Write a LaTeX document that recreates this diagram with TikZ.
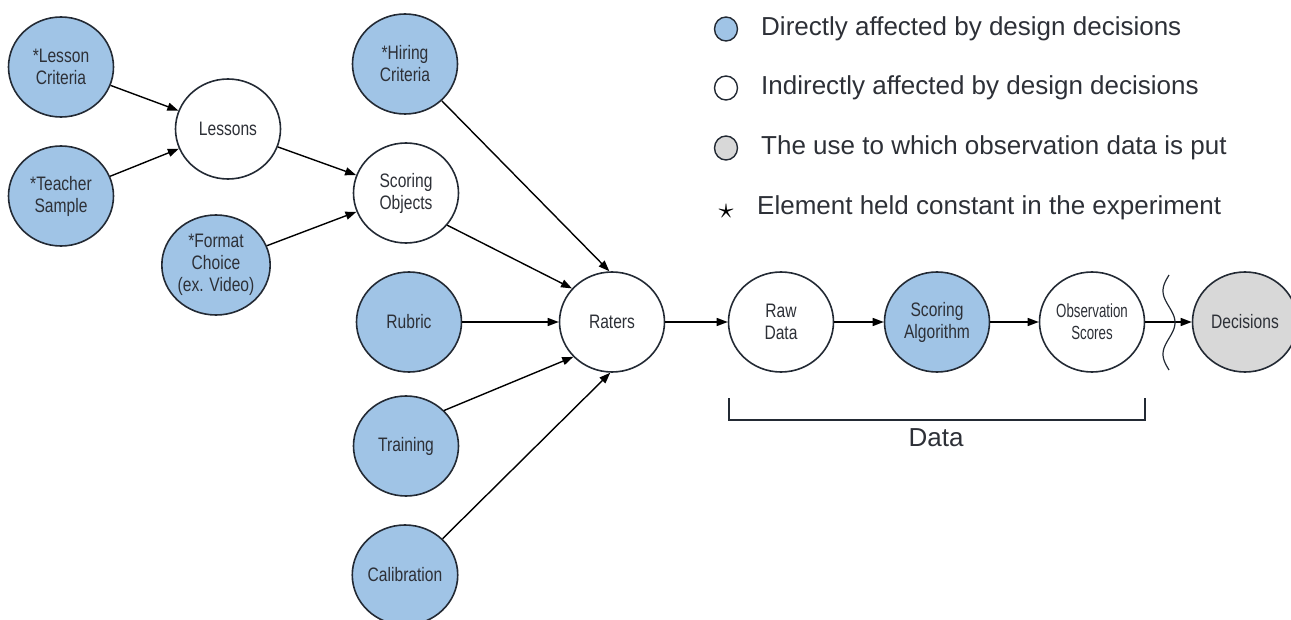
\documentclass[tikz,border=0pt]{standalone}
\usepackage{fontspec}
\setmainfont{Liberation Sans}
\newfontfamily\narrowfont[FakeStretch=0.8]{Liberation Sans}
\newfontfamily\narrowerfont[FakeStretch=0.7]{Liberation Sans}
\usetikzlibrary{shapes.geometric,arrows.meta}
\definecolor{bluefill}{RGB}{160,196,230}
\definecolor{greyfill}{RGB}{216,216,216}
\definecolor{edgecol}{RGB}{35,42,52}
\definecolor{txtcol}{RGB}{45,48,55}
\tikzset{
  x=1pt, y=-1pt,
  base/.style={ellipse, draw=edgecol, line width=1.6pt, minimum width=105pt, minimum height=100pt, inner sep=0pt, align=center, text=txtcol, font=\narrowfont\fontsize{19.5}{22}\selectfont},
  direct/.style={base, fill=bluefill},
  indirect/.style={base, fill=white},
  usenode/.style={base, fill=greyfill},
  conn/.style={line width=1.4pt, black, -{Triangle[length=11pt,width=8pt]}},
  legcirc/.style={ellipse, draw=edgecol, line width=1.4pt, minimum width=23pt, minimum height=24pt, inner sep=0pt},
  legtext/.style={anchor=west, text=txtcol, font=\fontsize{26}{28}\selectfont, inner sep=0pt},
}
\begin{document}
\begin{tikzpicture}
\useasboundingbox (0,0) rectangle (1291,620);
% nodes
\node[direct] (lc) at (61,67) {*Lesson\\Criteria};
\node[direct] (ts) at (61,196) {*Teacher\\Sample};
\node[indirect] (les) at (228,129) {Lessons};
\node[direct] (fc) at (216,265) {*Format\\Choice\\(ex. Video)};
\node[indirect] (so) at (406,193) {Scoring\\Objects};
\node[direct] (hc) at (405,64) {*Hiring\\Criteria};
\node[direct] (rub) at (409,322) {Rubric};
\node[direct] (tra) at (406,446) {Training};
\node[direct] (cal) at (405,575) {Calibration};
\node[indirect] (rat) at (612,322) {Raters};
\node[indirect] (raw) at (781,322) {Raw\\Data};
\node[direct] (alg) at (937,322) {Scoring\\Algorithm};
\node[indirect, font=\narrowerfont\fontsize{19}{22}\selectfont] (obs) at (1092,322) {Observation\\Scores};
\node[usenode] (dec) at (1245,322) {Decisions};
% connectors
\draw[conn] (lc) -- (les);
\draw[conn] (ts) -- (les);
\draw[conn] (les) -- (so);
\draw[conn] (fc) -- (so);
\draw[conn] (hc.-45) -- (rat.93);
\draw[conn] (so.-38) -- (rat.140);
\draw[conn] (rub) -- (rat);
\draw[conn] (tra.43) -- (rat.222);
\draw[conn] (cal.44) -- (rat.-92);
\draw[conn] (rat) -- (raw);
\draw[conn] (raw) -- (alg);
\draw[conn] (alg) -- (obs);
\draw[conn] (obs) -- (dec);
% wave break
\draw[line width=1.2pt, edgecol, domain=275:370, samples=80, smooth, variable=\t]
  plot ({1169-6*sin((\t-275)/95*540)}, \t);
% bracket
\coordinate (bl) at (729,398);
\coordinate (br) at (1145,398);
\draw[line width=1.4pt, edgecol] (bl) -- ++(0,22) -| (br);
\node[text=txtcol, font=\fontsize{26}{28}\selectfont] (datalbl) at (936,438) {Data};
% legend
\node[legcirc, fill=bluefill] (l1) at (726,29) {};
\node[legcirc, fill=white] (l2) at (726,88) {};
\node[legcirc, fill=greyfill] (l3) at (726,148) {};
\node[text=black, inner sep=0pt] (l4) at (726,212) {\scalebox{3}{$\star$}};
\node[legtext] (t1) at (761,29) {Directly affected by design decisions};
\node[legtext] (t2) at (761,88) {Indirectly affected by design decisions};
\node[legtext] (t3) at (761,148) {The use to which observation data is put};
\node[legtext] (t4) at (757,208) {Element held constant in the experiment};
\end{tikzpicture}
\end{document}
